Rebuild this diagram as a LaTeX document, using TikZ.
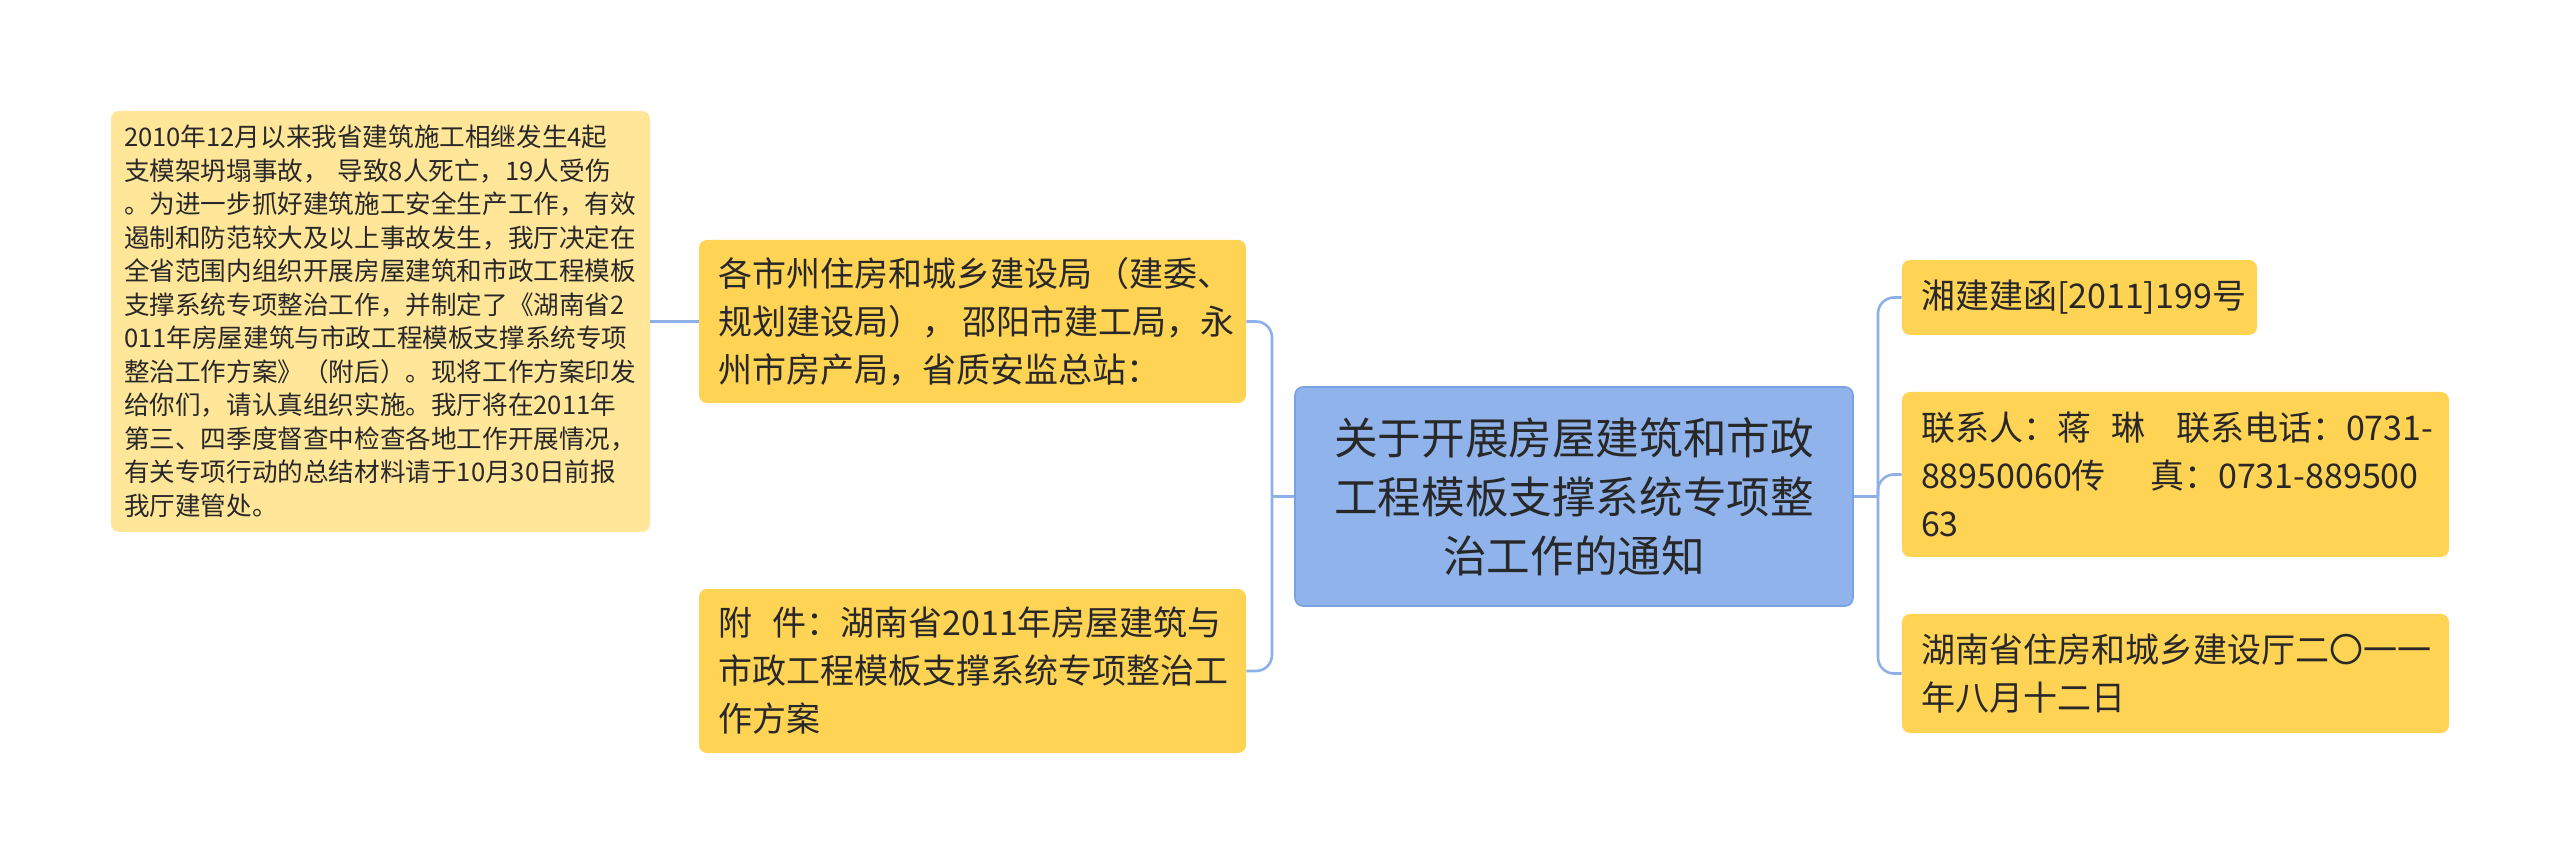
\documentclass[tikz,border=0pt]{standalone}
\usepackage{fontspec}
\setmainfont{Noto Sans CJK SC}
\usetikzlibrary{positioning}

\definecolor{boxyellow}{RGB}{255,211,84}
\definecolor{paleyellow}{RGB}{255,230,153}
\definecolor{topicblue}{RGB}{143,179,234}
\definecolor{topicedge}{RGB}{122,161,226}
\definecolor{linkblue}{RGB}{142,176,232}
\definecolor{inktext}{RGB}{40,40,40}

\begin{document}
\begin{tikzpicture}[x=0.5pt, y=-0.5pt,
    branch/.style={rectangle, rounded corners=4pt, fill=boxyellow, text=inktext,
        align=left, inner xsep=9.5pt, inner ysep=0pt,
        font=\fontsize{17pt}{24pt}\selectfont},
    note/.style={rectangle, rounded corners=4pt, fill=paleyellow, text=inktext,
        align=left, text width=256.5pt, inner xsep=6.5pt, inner ysep=0pt,
        minimum height=210.5pt, font=\fontsize{12.8pt}{16.75pt}\selectfont},
    topic/.style={rectangle, rounded corners=4pt, fill=topicblue, draw=topicedge,
        line width=0.8pt, text=inktext, align=center, text width=260pt,
        minimum width=279pt, minimum height=109.5pt, inner ysep=0pt,
        font=\fontsize{21.8pt}{29.5pt}\selectfont},
    link/.style={draw=linkblue, line width=1.3pt, rounded corners=8pt}]

    % Frame
    \useasboundingbox (0,0) rectangle (2560,865);

    % Central topic
    \node[topic] (c) at (1574,496.5) {关于开展房屋建筑和市政\\工程模板支撑系统专项整\\治工作的通知};

    % Left branches
    \node[branch, text width=254.5pt, minimum height=81.5pt] (b1) at (972.5,321.5)
        {各市州住房和城乡建设局\kern0.1em（建委、\\规划建设局），\kern0.2em邵阳市建工局，永\\州市房产局，省质安监总站：};
    \node[branch, text width=254.5pt, minimum height=82pt] (b2) at (972.5,671)
        {附\kern0.6em件：湖南省2011年房屋建筑与\\市政工程模板支撑系统专项整治工\\作方案};
    \node[note] (fl) at (380.5,321.5)
        {2010年12月以来我省建筑施工相继发生4起\\
         支模架坍塌事故，\kern0.35em导致8人死亡，19人受伤\\
         。为进一步抓好建筑施工安全生产工作，有效\\
         遏制和防范较大及以上事故发生，我厅决定在\\
         全省范围内组织开展房屋建筑和市政工程模板\\
         支撑系统专项整治工作，并制定了《湖南省2\\
         011年房屋建筑与市政工程模板支撑系统专项\\
         整治工作方案》（附后）。现将工作方案印发\\
         给你们，请认真组织实施。我厅将在2011年\\
         第三、四季度督查中检查各地工作开展情况，\\
         有关专项行动的总结材料请于10月30日前报\\
         我厅建管处。};

    % Right branches
    \node[branch, text width=158.5pt, minimum height=37.5pt] (r1) at (2079.5,297.5)
        {湘建建函[2011]199号};
    \node[branch, text width=254.5pt, minimum height=82.5pt] (r2) at (2175.5,474.5)
        {\mbox{联系人：蒋\kern0.6em琳\kern0.9em联系电话：0731-}\\\mbox{88950060传\kern1.3em真：0731-889500}\\63};
    \node[branch, text width=254.5pt, minimum height=59.5pt] (r3) at (2175.5,673.5)
        {湖南省住房和城乡建设厅二〇一一\\年八月十二日};

    % Connectors
    \coordinate (lhub) at (1272,496.5);
    \coordinate (rhub) at (1878,496.5);
    \draw[link] (c.west) -- (lhub);
    \draw[link] (b1.east) -| (lhub);
    \draw[link] (b2.east) -| (lhub);
    \draw[link] (fl.east) -- (b1.west);
    \draw[link] (c.east) -- (rhub);
    \draw[link] (rhub) |- (r1.west);
    \draw[link] (rhub) |- (r2.west);
    \draw[link] (rhub) |- (r3.west);
\end{tikzpicture}
\end{document}
